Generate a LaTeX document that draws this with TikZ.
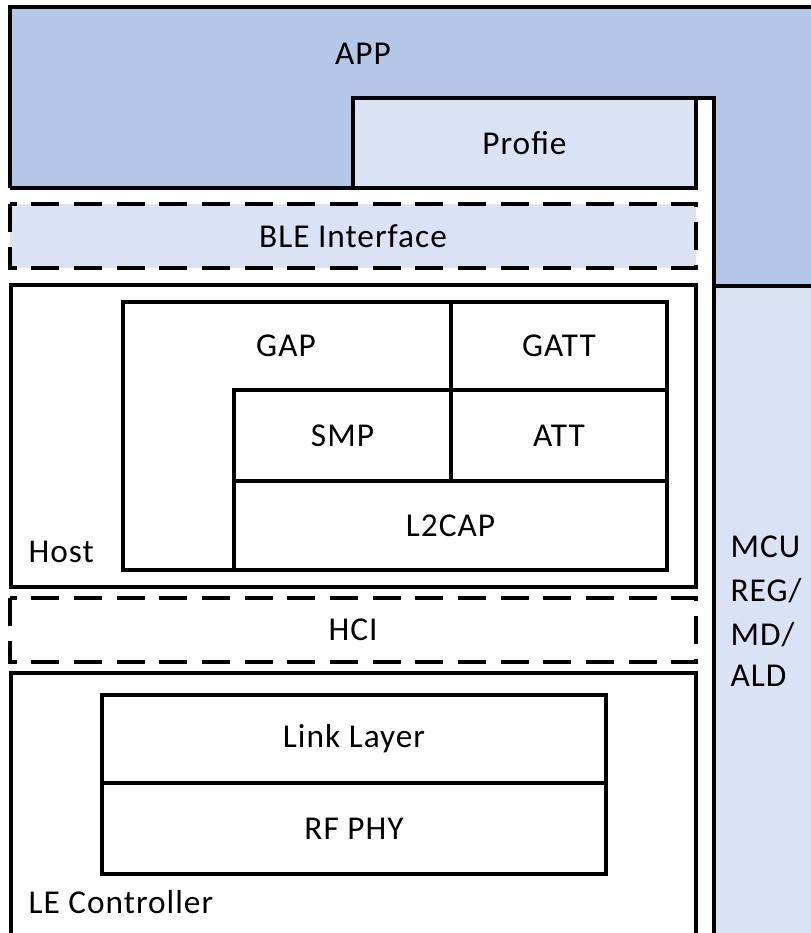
\documentclass[tikz,border=0pt]{standalone}
\usepackage{fontspec}
\setmainfont{Carlito}[LetterSpace=3]
\definecolor{appblue}{HTML}{B4C7E7}
\definecolor{lightblue}{HTML}{DAE3F3}
\begin{document}
\begin{tikzpicture}[x=0.75pt,y=-0.75pt, line width=2.4pt,
  lbl/.style={font=\fontsize{25}{32}\selectfont, inner sep=0pt},
  dashbox/.style={dash pattern=on 21pt off 11pt}]
\useasboundingbox (0,0) rectangle (811,933);
\clip (0,0) rectangle (811,933);
% fills
\fill[appblue] (10,7) -- (830,7) -- (830,286) -- (714,286) -- (714,98) -- (353,98) -- (353,188) -- (10,188) -- cycle;
\fill[lightblue] (714,286) rectangle (830,960);
% APP outline
\draw (10,188) -- (10,7) -- (830,7);
\draw (10,188) -- (353,188);
% Profie box
\draw[fill=lightblue] (353,188) rectangle (696,98);
\draw (696,98) -- (714,98) -- (714,960);
\draw (714,286) -- (830,286);
% BLE interface
\draw[dashbox, fill=lightblue] (10,204) rectangle (696,268);
% Host
\draw (11,285) rectangle (696,587);
\draw (123,302) -- (451,302) -- (451,390) -- (234,390) -- (234,570) -- (123,570) -- cycle;
\draw (451,302) rectangle (667,390);
\draw (234,390) rectangle (451,481);
\draw (451,390) rectangle (667,481);
\draw (234,481) rectangle (667,570);
% HCI
\draw[dashbox] (10,598) rectangle (696,662);
% LE Controller
\draw (11,673) rectangle (696,960);
\draw (102,695) rectangle (606,783);
\draw (102,783) rectangle (606,874);
% labels
\node[lbl] (app) at (363,54) {APP};
\node[lbl] (profie) at (524.5,143) {Profie};
\node[lbl] (ble) at (353,236) {BLE Interface};
\node[lbl] (gap) at (286,346) {GAP};
\node[lbl] (gatt) at (559,346) {GATT};
\node[lbl] (smp) at (342.5,436) {SMP};
\node[lbl] (att) at (559,436) {ATT};
\node[lbl] (l2cap) at (450.5,526) {L2CAP};
\node[lbl, anchor=base west] (host) at (27,562) {Host};
\node[lbl] (hci) at (353,630) {HCI};
\node[lbl] (ll) at (354,739) {Link Layer};
\node[lbl] (rf) at (354,829) {RF PHY};
\node[lbl, anchor=base west] (lec) at (27,913) {LE Controller};
\node[lbl, anchor=base west] (mcu) at (729,557) {MCU};
\node[lbl, anchor=base west] (reg) at (729,601) {REG/};
\node[lbl, anchor=base west] (md) at (729,645) {MD/};
\node[lbl, anchor=base west] (ald) at (729,686) {ALD};
\end{tikzpicture}
\end{document}
